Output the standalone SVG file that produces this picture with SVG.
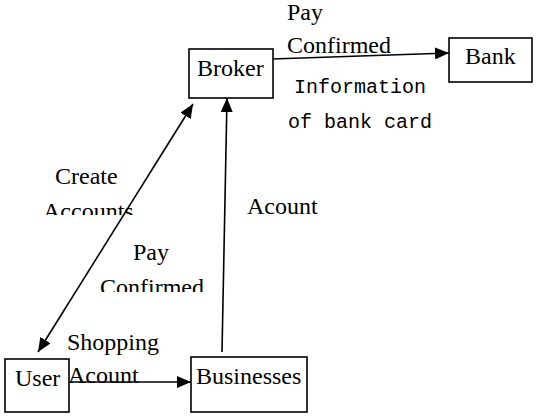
<svg xmlns="http://www.w3.org/2000/svg" width="538" height="418" viewBox="0 0 538 418">
<style>
.box{fill:#fff;stroke:#000;stroke-width:1.6}
.t{font-family:"Liberation Serif","Times New Roman",serif;font-size:24px;fill:#000}
.m{font-family:"Liberation Mono","Courier New",monospace;font-size:20px;fill:#000}
.c{stroke:#000;stroke-width:1.6;fill:none}
</style>
<defs>
<marker id="ah" markerUnits="userSpaceOnUse" markerWidth="14" markerHeight="12" refX="14" refY="6" orient="auto-start-reverse" viewBox="0 0 14 12">
<path d="M0,0 L14,6 L0,12 Z" fill="#000"/>
</marker>
<clipPath id="clipA"><rect x="0" y="150" width="200" height="65"/></clipPath>
<clipPath id="clipB"><rect x="80" y="230" width="160" height="62"/></clipPath>
</defs>
<g id="connectors">
<line class="c" x1="272" y1="59" x2="449" y2="53" marker-end="url(#ah)"/>
<line class="c" x1="38" y1="352" x2="193" y2="104" marker-start="url(#ah)" marker-end="url(#ah)"/>
<line class="c" x1="222" y1="352" x2="227" y2="98" marker-end="url(#ah)"/>
<line class="c" x1="67" y1="382" x2="191" y2="382" marker-end="url(#ah)"/>
</g>
<g id="broker"><rect class="box" x="189" y="49" width="84" height="49"/><text class="t" x="197" y="76">Broker</text></g>
<g id="bank"><rect class="box" x="449" y="38" width="83" height="44"/><text class="t" x="465" y="64">Bank</text></g>
<g id="user"><rect class="box" x="5" y="359" width="64" height="53"/><text class="t" x="15" y="386">User</text></g>
<g id="businesses"><rect class="box" x="191" y="357" width="116" height="55"/><text class="t" x="196" y="384">Businesses</text></g>
<g id="labels">
<text class="t" x="287" y="20">Pay</text>
<text class="t" x="287" y="53">Confirmed</text>
<text class="m" x="294" y="93">Information</text>
<text class="m" x="288" y="128">of bank card</text>
<text class="t" x="55" y="184">Create</text>
<g clip-path="url(#clipA)"><text class="t" x="43" y="219">Accounts</text></g>
<text class="t" x="247" y="214">Acount</text>
<text class="t" x="133" y="260">Pay</text>
<g clip-path="url(#clipB)"><text class="t" x="100" y="295">Confirmed</text></g>
<text class="t" x="67" y="350">Shopping</text>
<text class="t" x="68" y="383">Acount</text>
</g>
</svg>
